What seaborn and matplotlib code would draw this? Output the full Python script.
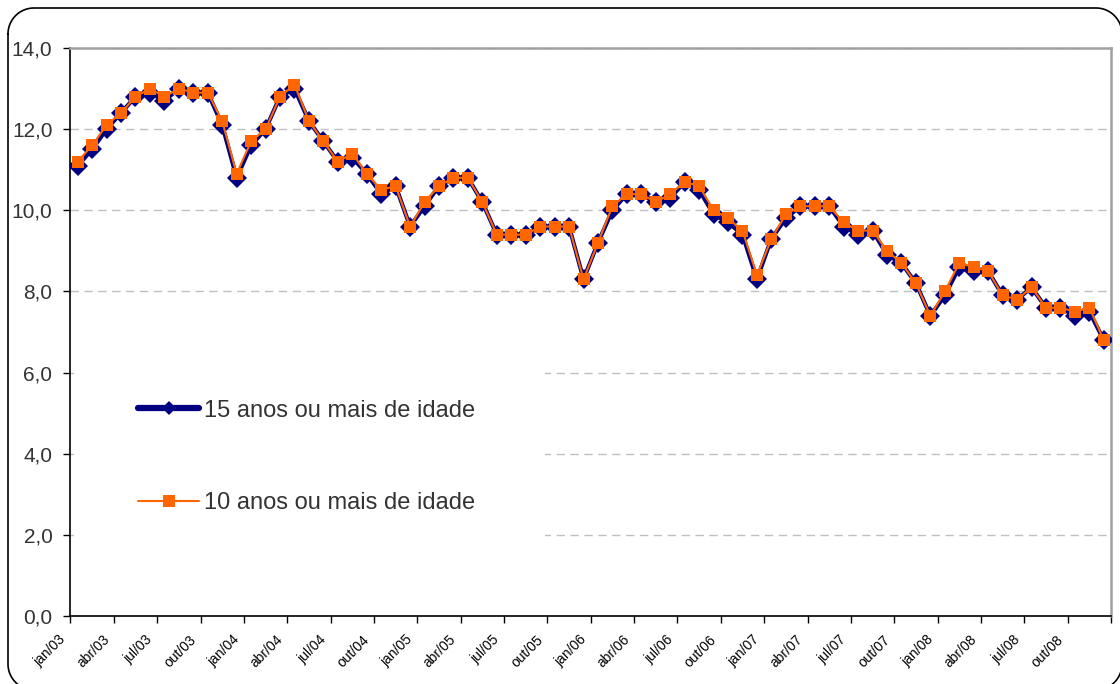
import matplotlib
matplotlib.use('Agg')
import matplotlib.pyplot as plt
import matplotlib.transforms as mtransforms
import seaborn as sns
import pandas as pd
import numpy as np
from matplotlib.lines import Line2D
from matplotlib.patches import Rectangle
from matplotlib.ticker import FuncFormatter

# monthly rate, jan/03 .. dez/08
tick_labels = ['jan/03', 'abr/03', 'jul/03', 'out/03',
               'jan/04', 'abr/04', 'jul/04', 'out/04',
               'jan/05', 'abr/05', 'jul/05', 'out/05',
               'jan/06', 'abr/06', 'jul/06', 'out/06',
               'jan/07', 'abr/07', 'jul/07', 'out/07',
               'jan/08', 'abr/08', 'jul/08', 'out/08']

taxa_15 = [11.1, 11.5, 12.0, 12.4, 12.8, 12.9, 12.7, 13.0, 12.9, 12.9, 12.1, 10.8,
           11.6, 12.0, 12.8, 13.0, 12.2, 11.7, 11.2, 11.3, 10.9, 10.4, 10.6, 9.6,
           10.1, 10.6, 10.8, 10.8, 10.2, 9.4, 9.4, 9.4, 9.6, 9.6, 9.6, 8.3,
           9.2, 10.0, 10.4, 10.4, 10.2, 10.3, 10.7, 10.5, 9.9, 9.7, 9.4, 8.3,
           9.3, 9.8, 10.1, 10.1, 10.1, 9.6, 9.4, 9.5, 8.9, 8.7, 8.2, 7.4,
           7.9, 8.6, 8.5, 8.5, 7.9, 7.8, 8.1, 7.6, 7.6, 7.4, 7.5, 6.8]

taxa_10 = [11.2, 11.6, 12.1, 12.4, 12.8, 13.0, 12.8, 13.0, 12.9, 12.9, 12.2, 10.9,
           11.7, 12.0, 12.8, 13.1, 12.2, 11.7, 11.2, 11.4, 10.9, 10.5, 10.6, 9.6,
           10.2, 10.6, 10.8, 10.8, 10.2, 9.4, 9.4, 9.4, 9.6, 9.6, 9.6, 8.3,
           9.2, 10.1, 10.4, 10.4, 10.2, 10.4, 10.7, 10.6, 10.0, 9.8, 9.5, 8.4,
           9.3, 9.9, 10.1, 10.1, 10.1, 9.7, 9.5, 9.5, 9.0, 8.7, 8.2, 7.4,
           8.0, 8.7, 8.6, 8.5, 7.9, 7.8, 8.1, 7.6, 7.6, 7.5, 7.6, 6.8]

labels = ['15 anos ou mais de idade', '10 anos ou mais de idade']

df = pd.DataFrame({'mes': np.arange(len(taxa_10)), 't15': taxa_15, 't10': taxa_10})

sns.set_style('white')
plt.rcParams['font.family'] = ['Liberation Sans', 'DejaVu Sans']

navy = '#000080'
orange = '#FF6600'

fig = plt.figure(figsize=(11.2, 6.84), dpi=100)
ax = fig.add_axes([0.0629, 0.0994, 0.9291, 0.8304])

sns.lineplot(data=df, x='mes', y='t15', ax=ax, color=navy, linewidth=3,
             marker='D', markersize=10.5, markeredgewidth=0, zorder=3)
sns.lineplot(data=df, x='mes', y='t10', ax=ax, color=orange, linewidth=1.5,
             marker='s', markersize=9, markeredgewidth=0, zorder=4)

# y axis
ax.set_ylim(0, 14)
ax.set_yticks(np.arange(0, 15, 2))
ax.yaxis.set_major_formatter(FuncFormatter(lambda v, p: f'{v:.1f}'.replace('.', ',')))
ax.yaxis.grid(True, linestyle=(0, (6, 4)), color='#c0c0c0', linewidth=1)
ax.set_ylabel('')

# x axis: labels every 3 months, tick marks between categories
ax.set_xlim(-0.5, len(taxa_10) - 0.5)
ax.set_xticks(np.arange(0, len(taxa_10), 3))
ax.set_xticklabels(tick_labels, fontsize=10, rotation=45, ha='right', color='black')
ax.set_xticks(np.arange(-0.5, len(taxa_10), 3), minor=True)
ax.set_xlabel('')
ax.tick_params(axis='x', which='major', length=0, pad=12)
ax.tick_params(axis='x', which='minor', bottom=True, length=5, width=1, color='black', direction='out')
ax.tick_params(axis='y', left=True, length=5, width=1, color='black', direction='out',
               labelsize=15, labelcolor='#333333', pad=8)
off = mtransforms.ScaledTranslation(-0.09, 0, fig.dpi_scale_trans)
for lab in ax.get_xticklabels():
    lab.set_transform(lab.get_transform() + off)

for s in ['left', 'bottom']:
    ax.spines[s].set_color('black')
    ax.spines[s].set_linewidth(1.2)
for s in ['top', 'right']:
    ax.spines[s].set_color('#a0a0a0')
    ax.spines[s].set_linewidth(1.8)

# white area behind legend
ax.add_patch(Rectangle((0.003, 0.1), 0.453, 0.37, transform=ax.transAxes,
                       facecolor='white', edgecolor='none', zorder=1.6))

handles = [Line2D([0], [0], color=navy, lw=4.5, marker='D', markersize=7, markeredgewidth=0),
           Line2D([0], [0], color=orange, lw=1.5, marker='s', markersize=8, markeredgewidth=0)]
ax.legend(handles=handles, labels=labels, loc='center left', bbox_to_anchor=(0.065, 0.28),
          frameon=False, fontsize=17, handlelength=2.6, handletextpad=0.2,
          labelspacing=3.0, borderpad=0, borderaxespad=0, labelcolor='#333333')

# rounded outer border, drawn as a polyline in pixel units (y downward)
W, H = 1120.0, 684.0
x0, y0, x1, y1, r = 8.0, 8.0, 1122.0, 690.0, 26.0
t = np.linspace(0, np.pi / 2, 30)
px, py = [], []
for cx, cy, a0 in [(x0 + r, y0 + r, np.pi), (x1 - r, y0 + r, 1.5 * np.pi),
                   (x1 - r, y1 - r, 0.0), (x0 + r, y1 - r, 0.5 * np.pi)]:
    px.extend(cx + r * np.cos(a0 + t))
    py.extend(cy + r * np.sin(a0 + t))
px.append(px[0])
py.append(py[0])
fig.add_artist(Line2D(np.array(px) / W, 1 - np.array(py) / H, transform=fig.transFigure,
                      color='black', linewidth=1.2, clip_on=False))

fig.savefig('out.png', dpi=100)
